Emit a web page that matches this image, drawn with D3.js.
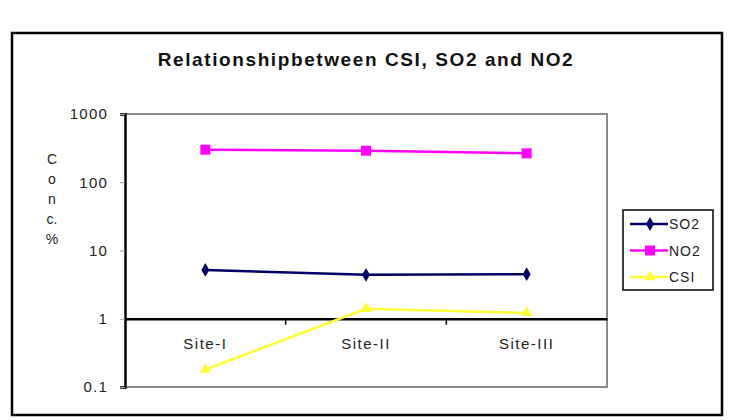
<!DOCTYPE html>
<html><head><meta charset="utf-8">
<script src="https://cdn.jsdelivr.net/npm/d3@7"></script>
<style>
html,body{margin:0;padding:0;background:#fff;}
svg text{font-family:"Liberation Sans",Arial,sans-serif;}
</style></head>
<body>
<svg id="chart" width="756" height="420"></svg>
<script>
const categories = ["Site-I", "Site-II", "Site-III"];
const so2Values = [5.2, 4.4, 4.5];
const no2Values = [300, 290, 265];
const csiValues = [0.18, 1.4, 1.22];
const yTickValues = [0.1, 1, 10, 100, 1000];
const yTickLabels = ["0.1", "1", "10", "100", "1000"];
const seriesNames = ["SO2", "NO2", "CSI"];
const titleText = "Relationshipbetween CSI, SO2 and NO2";
const yLabelChars = ["C", "o", "n", "c.", "%"];

const series = [
  {name: seriesNames[0], values: so2Values, color: "#000066", symbol: d3.symbolDiamond, size: 55},
  {name: seriesNames[1], values: no2Values, color: "#ff00ff", symbol: d3.symbolSquare, size: 100},
  {name: seriesNames[2], values: csiValues, color: "#ffff33", symbol: d3.symbolTriangle, size: 55}
];

const svg = d3.select("#chart");

// outer frame
svg.append("rect").attr("x", 12).attr("y", 33).attr("width", 710).attr("height", 382)
  .attr("fill", "#fff").attr("stroke", "#000").attr("stroke-width", 2.5);

// title
svg.append("text").attr("x", 366).attr("y", 66).attr("text-anchor", "middle")
  .attr("font-size", 19).attr("font-weight", "bold").attr("letter-spacing", 1.6).attr("fill", "#111")
  .text(titleText);

const plot = {left: 125, right: 607, top: 114, bottom: 387};
const x = d3.scaleBand().domain(categories).range([plot.left, plot.right]);
const y = d3.scaleLog().domain([0.1, 1000]).range([plot.bottom, plot.top]);

// plot area border (gray)
svg.append("path")
  .attr("d", `M${plot.left},${plot.top}H${plot.right}V${plot.bottom}H${plot.left}`)
  .attr("fill", "none").attr("stroke", "#8a8a8a").attr("stroke-width", 2);

// y axis
const yAxis = d3.axisLeft(y).tickValues(yTickValues)
  .tickFormat((d, i) => yTickLabels[i]).tickSize(5).tickPadding(12);
const gy = svg.append("g").attr("transform", `translate(${plot.left},0)`).call(yAxis);
gy.select(".domain").attr("stroke", "#000").attr("stroke-width", 2.5);
gy.selectAll(".tick line").attr("stroke", "#999").attr("stroke-width", 1);
gy.selectAll(".tick text").attr("font-size", 15).attr("letter-spacing", 1.2)
  .attr("fill", "#222").attr("font-family", "Liberation Sans, Arial, sans-serif");

// x axis crossing at 1
const xAxis = d3.axisBottom(x).tickSize(0).tickPadding(20);
const gx = svg.append("g").attr("transform", `translate(0,${y(1)})`).call(xAxis);
gx.select(".domain").attr("stroke", "#000").attr("stroke-width", 2.5);
gx.selectAll(".tick text").attr("font-size", 15).attr("letter-spacing", 1.5)
  .attr("fill", "#222").attr("font-family", "Liberation Sans, Arial, sans-serif");
// tick marks at category boundaries
gx.selectAll(".bound").data(categories.slice(1)).enter().append("line")
  .attr("x1", d => x(d)).attr("x2", d => x(d)).attr("y1", 0).attr("y2", 6)
  .attr("stroke", "#000").attr("stroke-width", 1.5);

// y label
svg.append("g").selectAll("text").data(yLabelChars).enter().append("text")
  .attr("x", 52).attr("y", (d, i) => 164 + i * 20).attr("text-anchor", "middle")
  .attr("font-size", 14).attr("fill", "#222").text(d => d);

// lines and markers
const line = d3.line().x((d, i) => x(categories[i]) + x.bandwidth() / 2).y(d => y(d));
series.forEach(s => {
  svg.append("path").datum(s.values).attr("d", line)
    .attr("fill", "none").attr("stroke", s.color).attr("stroke-width", 2.5);
  svg.append("g").selectAll("path").data(s.values).enter().append("path")
    .attr("d", d3.symbol().type(s.symbol).size(s.size))
    .attr("transform", (d, i) => `translate(${x(categories[i]) + x.bandwidth() / 2},${y(d)})`)
    .attr("fill", s.color);
});

// legend
const lg = svg.append("g");
lg.append("rect").attr("x", 623).attr("y", 210).attr("width", 90).attr("height", 80)
  .attr("fill", "#fff").attr("stroke", "#000").attr("stroke-width", 1.5);
series.forEach((s, i) => {
  const yy = 224 + i * 26.5;
  lg.append("line").attr("x1", 630).attr("x2", 668).attr("y1", yy).attr("y2", yy)
    .attr("stroke", s.color).attr("stroke-width", 2.5);
  lg.append("path").attr("d", d3.symbol().type(s.symbol).size(s.size))
    .attr("transform", `translate(650,${yy})`).attr("fill", s.color);
  lg.append("text").attr("x", 669).attr("y", yy + 5).attr("font-size", 14)
    .attr("letter-spacing", 1).attr("fill", "#222").text(s.name);
});
</script>
</body></html>
